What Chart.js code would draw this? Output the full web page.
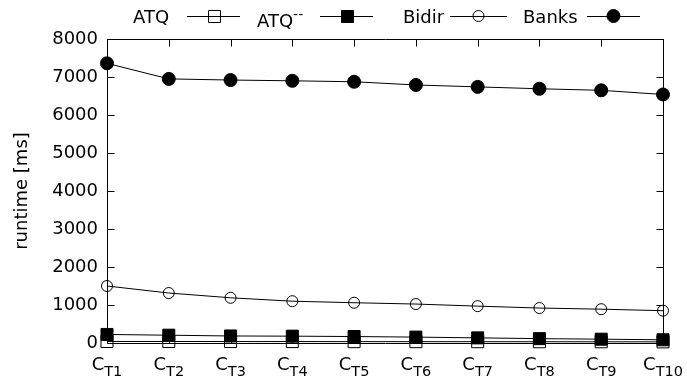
<!DOCTYPE html>
<html>
<head>
<meta charset="utf-8">
<script src="https://cdn.jsdelivr.net/npm/chart.js@4/dist/chart.umd.min.js"></script>
<style>
html,body{margin:0;padding:0;background:#fff;}
#wrap{width:687px;height:382px;}
</style>
</head>
<body>
<div id="wrap"><canvas id="c" width="687" height="382"></canvas></div>
<script>
// ---- data ----
const categories = ['T1','T2','T3','T4','T5','T6','T7','T8','T9','T10'];
const yTickValues = [0,1000,2000,3000,4000,5000,6000,7000,8000];
const seriesNames = ['ATQ','ATQ--','Bidir','Banks'];
const atq      = [40, 40, 38, 38, 36, 35, 34, 33, 32, 30];
const atqMinus = [225, 205, 185, 180, 170, 155, 135, 115, 100, 85];
const bidir    = [1500, 1315, 1190, 1100, 1060, 1025, 970, 920, 890, 850];
const banks    = [7360, 6950, 6920, 6900, 6875, 6790, 6740, 6690, 6650, 6540];

const FONT = 'DejaVu Sans';
Chart.defaults.font.family = FONT;
Chart.defaults.color = '#000';

const markerKinds = ['openSquare','fillSquare','openCircle','fillCircle'];

function drawMarker(ctx, kind, x, y) {
  ctx.save();
  ctx.lineWidth = 1;
  ctx.strokeStyle = '#000';
  ctx.fillStyle = '#000';
  if (kind === 'openSquare' || kind === 'fillSquare') {
    const s = 6;
    ctx.beginPath();
    ctx.rect(Math.round(x - s) + 0.5, Math.round(y - s) + 0.5, 2 * s, 2 * s);
    if (kind === 'fillSquare') ctx.fill();
    ctx.stroke();
  } else {
    const r = kind === 'fillCircle' ? 6.5 : 5.5;
    ctx.beginPath();
    ctx.arc(x, y, r, 0, Math.PI * 2);
    if (kind === 'fillCircle') ctx.fill();
    ctx.stroke();
  }
  ctx.restore();
}

const framePlugin = {
  id: 'frame',
  beforeDatasetsDraw(chart) {
    const {ctx, chartArea: a, scales: {x, y}} = chart;
    ctx.save();
    ctx.strokeStyle = '#000';
    ctx.lineWidth = 1;
    const L = Math.round(a.left) + 0.5, R = Math.round(a.right) + 0.5;
    const T = Math.round(a.top) + 0.5, B = Math.round(a.bottom) + 0.5;
    ctx.beginPath();
    ctx.rect(L, T, R - L, B - T);
    yTickValues.forEach(v => {
      const py = Math.round(y.getPixelForValue(v)) + 0.5;
      ctx.moveTo(L, py); ctx.lineTo(L + 7, py);
      ctx.moveTo(R, py); ctx.lineTo(R - 7, py);
    });
    categories.forEach((c, i) => {
      const px = Math.round(x.getPixelForValue(i)) + 0.5;
      ctx.moveTo(px, T); ctx.lineTo(px, T + 7);
      ctx.moveTo(px, B); ctx.lineTo(px, B - 7);
    });
    ctx.stroke();
    ctx.restore();
  }
};

const xLabelPlugin = {
  id: 'xlabels',
  afterDraw(chart) {
    const {ctx, scales: {x}} = chart;
    ctx.save();
    ctx.fillStyle = '#000';
    ctx.textBaseline = 'alphabetic';
    ctx.textAlign = 'left';
    categories.forEach((c, i) => {
      const px = x.getPixelForValue(i);
      ctx.font = '18px "' + FONT + '"';
      const wC = ctx.measureText('C').width;
      ctx.font = '14.5px "' + FONT + '"';
      const wS = ctx.measureText(c).width;
      const start = px - (wC + wS) / 2;
      ctx.font = '18px "' + FONT + '"';
      ctx.fillText('C', start, 370);
      ctx.font = '14.5px "' + FONT + '"';
      ctx.fillText(c, start + wC, 376);
    });
    ctx.restore();
  }
};

const legendPos = [
  {tx: 133, l1: 187, l2: 240, base: 23},
  {tx: 257, l1: 320, l2: 373, base: 26.5},
  {tx: 403, l1: 450, l2: 507, base: 23},
  {tx: 523, l1: 587, l2: 640, base: 23}
];

const legendPlugin = {
  id: 'customLegend',
  afterDraw(chart) {
    const {ctx} = chart;
    ctx.save();
    ctx.fillStyle = '#000';
    ctx.strokeStyle = '#000';
    ctx.textAlign = 'left';
    ctx.textBaseline = 'alphabetic';
    seriesNames.forEach((name, i) => {
      const p = legendPos[i];
      ctx.font = '18px "' + FONT + '"';
      if (name.endsWith('--')) {
        const main = name.slice(0, -2);
        ctx.fillText(main, p.tx, p.base);
        const w = ctx.measureText(main).width;
        ctx.font = '14px "' + FONT + '"';
        ctx.fillText('--', p.tx + w, p.base - 7.5);
      } else {
        ctx.fillText(name, p.tx, p.base);
      }
      const ly = 16.5;
      ctx.lineWidth = 1;
      ctx.beginPath();
      ctx.moveTo(p.l1, ly); ctx.lineTo(p.l2, ly);
      ctx.stroke();
      drawMarker(ctx, markerKinds[i], (p.l1 + p.l2) / 2, 16);
    });
    ctx.restore();
  }
};

const common = {borderColor: '#000', borderWidth: 1, tension: 0, fill: false, clip: false, pointBorderColor: '#000', pointBorderWidth: 1};

new Chart(document.getElementById('c'), {
  type: 'line',
  data: {
    labels: categories,
    datasets: [
      Object.assign({}, common, {label: seriesNames[0], data: atq, order: 3, pointStyle: 'rect', pointRadius: 8.5, pointBackgroundColor: 'rgba(0,0,0,0)'}),
      Object.assign({}, common, {label: seriesNames[1], data: atqMinus, order: 0, pointStyle: 'rect', pointRadius: 8.5, pointBackgroundColor: '#000'}),
      Object.assign({}, common, {label: seriesNames[2], data: bidir, order: 2, pointStyle: 'circle', pointRadius: 5.5, pointBackgroundColor: 'rgba(0,0,0,0)'}),
      Object.assign({}, common, {label: seriesNames[3], data: banks, order: 1, pointStyle: 'circle', pointRadius: 6.5, pointBackgroundColor: '#000'})
    ]
  },
  options: {
    responsive: false,
    animation: false,
    devicePixelRatio: 1,
    layout: {padding: {left: 0, right: 24, top: 39, bottom: 0}},
    plugins: {legend: {display: false}, tooltip: {enabled: false}},
    scales: {
      x: {
        type: 'category',
        offset: false,
        grid: {display: false, drawTicks: false},
        border: {display: false},
        ticks: {display: false},
        afterFit(scale) { scale.height = 39; }
      },
      y: {
        min: 0, max: 8000,
        grid: {display: false, drawTicks: false},
        border: {display: false},
        afterBuildTicks(scale) { scale.ticks = yTickValues.map(v => ({value: v})); },
        ticks: {font: {size: 18, family: FONT}, color: '#000', padding: 9, callback: v => String(v)},
        title: {display: true, text: 'runtime [ms]', font: {size: 18, family: FONT}, color: '#000', padding: {top: 12, bottom: 0}},
        afterFit(scale) { scale.width = 107; }
      }
    }
  },
  plugins: [framePlugin, xLabelPlugin, legendPlugin]
});
</script>
</body>
</html>
